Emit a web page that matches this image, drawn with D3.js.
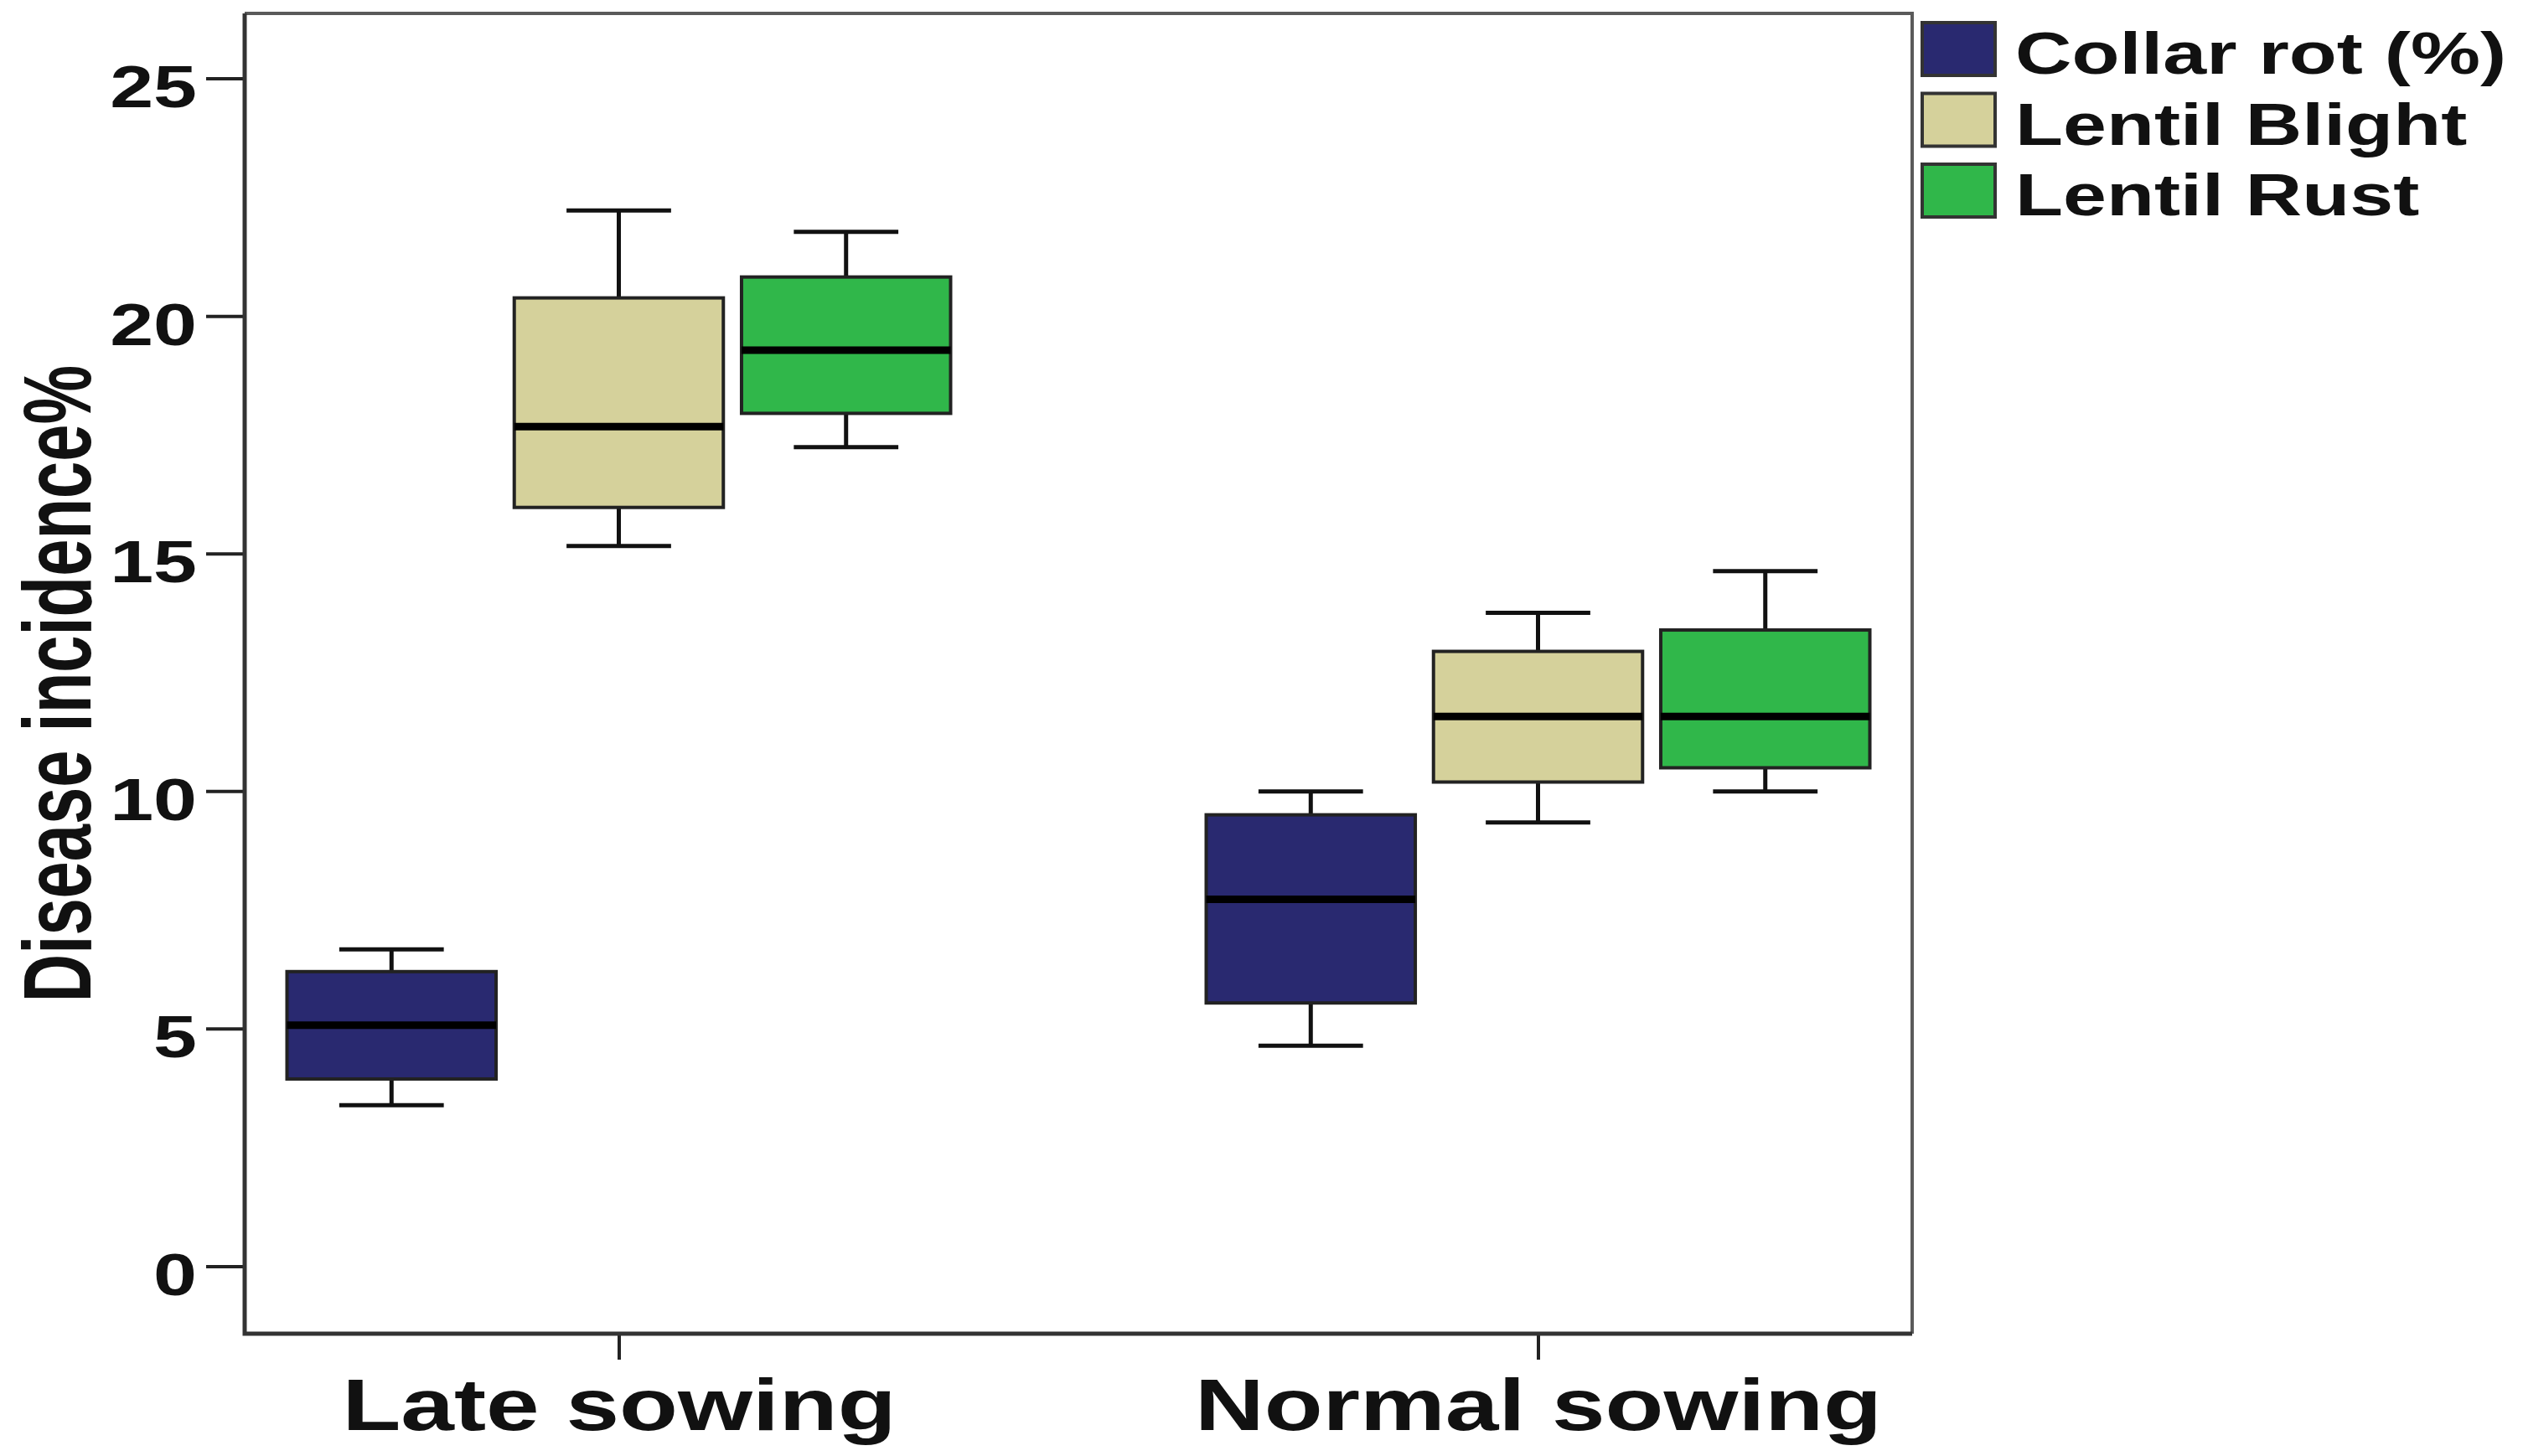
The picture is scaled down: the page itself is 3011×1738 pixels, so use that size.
<!DOCTYPE html>
<html>
<head>
<meta charset="utf-8">
<script src="https://cdn.jsdelivr.net/npm/d3@7"></script>
<style>
  body { margin: 0; background: #fff; }
  text { font-family: "Liberation Sans", Arial, sans-serif; font-weight: bold; fill: #111; }
</style>
</head>
<body>
<div id="chart"></div>
<script>
// data: [min, q1, median, q3, max] per sowing time
const categories = ['Late sowing', 'Normal sowing'];
const series = ['Collar rot (%)', 'Lentil Blight', 'Lentil Rust'];
const collarRot = [[3.39, 3.94, 5.07, 6.20, 6.67], [4.64, 5.54, 7.72, 9.50, 9.99]];
const lentilBlight = [[15.16, 15.97, 17.67, 20.38, 22.22], [9.34, 10.19, 11.57, 12.94, 13.75]];
const lentilRust = [[17.24, 17.95, 19.28, 20.82, 21.77], [9.99, 10.49, 11.57, 13.39, 14.63]];
const yTicks = [0, 5, 10, 15, 20, 25];
const colors = ['#292970', '#d5d19b', '#30b74a'];

const W = 3011, H = 1738;
const SX = 1.315; // the original picture is stretched sideways
const plot = { left: 292, right: 2282, top: 16, bottom: 1592 };

const svg = d3.select('#chart').append('svg')
  .attr('width', W).attr('height', H)
  .attr('viewBox', [0, 0, W, H]);

const y = d3.scaleLinear().domain([0, 25]).range([1511.4, 93.6]);
const x = d3.scalePoint().domain(categories)
  .range([plot.left, plot.right]).padding(0.407);
const xs = d3.scaleBand().domain(series).range([-396, 396]).paddingInner(0.08);

const allSeries = [collarRot, lentilBlight, lentilRust];
const boxes = [];
categories.forEach((c, ci) => {
  series.forEach((s, si) => {
    const v = allSeries[si][ci];
    boxes.push({ cat: c, ser: s, color: colors[si], min: v[0], q1: v[1], med: v[2], q3: v[3], max: v[4] });
  });
});

// y axis
const yAxis = svg.append('g')
  .attr('transform', `translate(${plot.left},0)`)
  .call(d3.axisLeft(y).tickValues(yTicks).tickSize(46).tickPadding(0));
yAxis.select('.domain').remove();
yAxis.selectAll('line').attr('stroke', '#222').attr('stroke-width', 4);
yAxis.selectAll('text')
  .attr('x', -57 / SX)
  .attr('dy', 34)
  .attr('transform', `scale(${SX},1)`)
  .style('font-size', '71px');

// x axis
const xAxis = svg.append('g')
  .attr('transform', `translate(0,${plot.bottom})`)
  .call(d3.axisBottom(x).tickSize(31).tickPadding(0));
xAxis.select('.domain').remove();
xAxis.selectAll('line').attr('stroke', '#222').attr('stroke-width', 4);
xAxis.selectAll('text')
  .attr('y', 115)
  .attr('dy', 0)
  .attr('transform', `scale(${SX},1)`)
  .style('font-size', '87px');

// frame
svg.append('path')
  .attr('d', `M${plot.left},${plot.top}H${plot.right}V${plot.bottom}`)
  .attr('fill', 'none').attr('stroke', '#5a5a5a').attr('stroke-width', 4);
svg.append('path')
  .attr('d', `M${plot.left},${plot.top}V${plot.bottom}H${plot.right}`)
  .attr('fill', 'none').attr('stroke', '#333').attr('stroke-width', 5);

// boxes
const bw = xs.bandwidth();
const g = svg.append('g').selectAll('g').data(boxes).join('g')
  .attr('transform', d => `translate(${x(d.cat) + xs(d.ser) + bw / 2},0)`);

g.append('line')
  .attr('y1', d => y(d.max)).attr('y2', d => y(d.q3))
  .attr('stroke', '#111').attr('stroke-width', 5);
g.append('line')
  .attr('y1', d => y(d.q1)).attr('y2', d => y(d.min))
  .attr('stroke', '#111').attr('stroke-width', 5);
g.append('line')
  .attr('x1', -bw / 4).attr('x2', bw / 4)
  .attr('y1', d => y(d.max)).attr('y2', d => y(d.max))
  .attr('stroke', '#111').attr('stroke-width', 5);
g.append('line')
  .attr('x1', -bw / 4).attr('x2', bw / 4)
  .attr('y1', d => y(d.min)).attr('y2', d => y(d.min))
  .attr('stroke', '#111').attr('stroke-width', 5);
g.append('rect')
  .attr('x', -bw / 2).attr('width', bw)
  .attr('y', d => y(d.q3)).attr('height', d => y(d.q1) - y(d.q3))
  .attr('fill', d => d.color)
  .attr('stroke', '#222').attr('stroke-width', 4);
g.append('line')
  .attr('x1', -bw / 2).attr('x2', bw / 2)
  .attr('y1', d => y(d.med)).attr('y2', d => y(d.med))
  .attr('stroke', '#000').attr('stroke-width', 9);

// legend
const legend = svg.append('g')
  .attr('transform', 'translate(2294,27)')
  .selectAll('g').data(series).join('g')
  .attr('transform', (d, i) => `translate(0,${i * 84.5})`);
legend.append('rect')
  .attr('width', 87).attr('height', 63)
  .attr('fill', (d, i) => colors[i])
  .attr('stroke', '#333').attr('stroke-width', 4);
legend.append('text')
  .attr('transform', `translate(111,61) scale(${SX},1)`)
  .style('font-size', '71px')
  .text(d => d);

// y axis title
svg.append('text')
  .attr('transform', 'translate(108,816) rotate(-90) scale(0.874,1.27)')
  .attr('text-anchor', 'middle')
  .style('font-size', '91px')
  .text('Disease incidence%');
</script>
</body>
</html>
